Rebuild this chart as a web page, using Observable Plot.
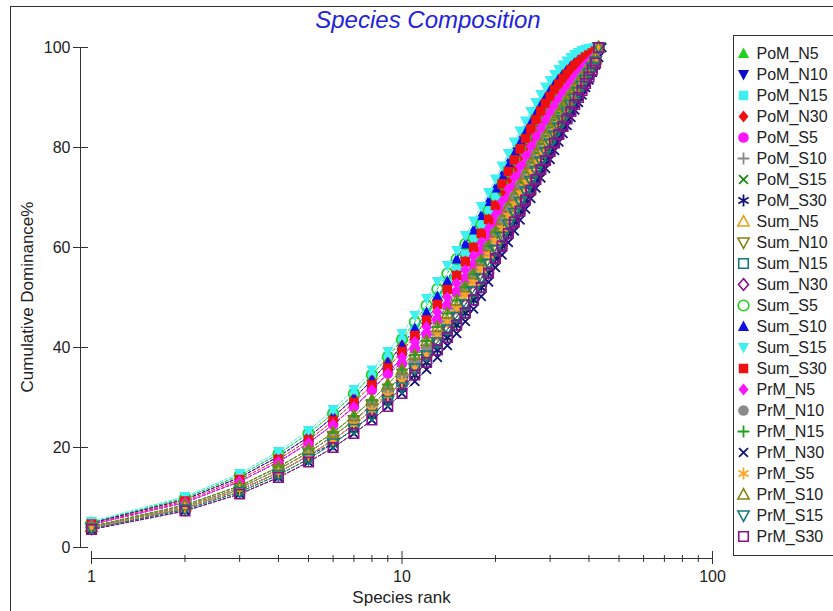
<!DOCTYPE html>
<html><head><meta charset="utf-8">
<script src="https://cdn.jsdelivr.net/npm/d3@7"></script>
<script src="https://cdn.jsdelivr.net/npm/@observablehq/plot@0.6"></script>
<style>
body{margin:0;background:#fff;}
#wrap{position:relative;width:833px;height:611px;overflow:hidden;font-family:"Liberation Sans",Arial,sans-serif;color:#222;}
#chart{position:absolute;left:0;top:0;width:833px;}
#border{position:absolute;left:10px;top:6px;width:900px;height:700px;border:1px solid #333;pointer-events:none;}
#title{position:absolute;left:0;width:856px;top:5px;text-align:center;font-style:italic;font-size:24px;line-height:30px;color:#2323dc;}
#xlab{position:absolute;left:401.5px;top:598px;transform:translate(-50%,-50%);font-size:17px;white-space:nowrap;}
#ylab{position:absolute;left:28px;top:297px;transform:translate(-50%,-50%) rotate(-90deg);font-size:17px;white-space:nowrap;}
#legend{position:absolute;left:733px;top:35px;width:108px;height:519px;border:1px solid #333;background:#fff;}
#chart svg,#legend svg{max-width:none !important;}
</style></head><body>
<div id="wrap"><div id="chart"></div><div id="border"></div><div id="title">Species Composition</div><div id="xlab">Species rank</div><div id="ylab">Cumulative Dominance%</div><div id="legend"></div></div>
<script>
// Cumulative dominance (%) by species rank (rank = position in array, starting at 1)
const PoM_N5 = [4.2,8.5,12.3,16.1,19.6,23.0,26.3,29.5,32.6,35.6,39.8,42.7,45.6,48.4,51.1,53.8,56.5,59.2,62.1,64.9,67.4,69.9,72.2,74.4,76.5,78.5,80.5,82.3,84.0,85.5,87.0,88.4,89.7,90.9,92.0,93.1,94.0,95.0,95.8,96.7,97.5,98.3,100];
const PoM_N10 = [4.6,9.0,13.2,17.1,20.9,24.6,28.1,31.5,34.8,38.0,41.1,44.1,48.6,51.6,54.4,57.2,60.0,62.8,65.6,68.4,71.0,73.5,75.8,78.0,80.0,82.0,83.9,85.6,87.2,88.7,90.0,91.3,92.4,93.4,94.4,95.3,96.0,96.7,97.3,97.9,98.4,99.0,100];
const PoM_N15 = [5.0,9.9,14.4,18.7,22.8,26.8,30.7,34.5,38.1,41.6,43.8,47.0,50.2,53.2,56.1,59.0,61.8,64.6,67.4,70.2,72.7,75.2,77.5,79.7,81.8,83.7,85.6,87.3,88.8,90.2,91.6,92.7,93.8,94.7,95.6,96.4,97.0,97.6,98.1,98.5,98.9,99.3,100];
const PoM_N30 = [4.9,9.6,14.0,18.2,22.1,26.1,29.8,33.5,37.0,40.4,42.4,45.5,48.6,51.6,54.4,57.2,60.0,62.8,65.6,68.4,71.0,73.5,75.8,78.0,80.0,82.0,83.9,85.6,87.2,88.7,90.0,91.3,92.4,93.4,94.4,95.3,96.0,96.7,97.3,97.9,98.4,99.0,100];
const PoM_S5 = [4.6,9.0,13.2,17.1,20.9,24.6,28.1,31.5,34.8,36.8,39.8,42.7,45.6,48.4,51.1,53.8,56.5,59.2,62.1,64.9,67.4,69.9,72.2,74.4,76.5,78.5,80.5,82.3,84.0,85.5,87.0,88.4,89.7,90.9,92.0,93.1,94.0,95.0,95.8,96.7,97.5,98.3,100];
const PoM_S10 = [4.1,8.2,11.9,15.6,19.0,22.3,25.4,28.5,31.5,34.4,37.2,39.9,42.6,45.2,47.8,50.4,53.0,55.6,58.5,61.3,63.8,66.3,68.6,70.8,73.0,73.3,75.3,77.2,79.1,80.8,82.4,84.0,85.5,87.0,88.4,89.7,91.0,92.3,93.5,94.8,96.0,97.2,100];
const PoM_S15 = [3.8,7.6,11.1,14.5,17.7,20.8,23.7,26.5,29.3,32.0,34.5,37.0,39.5,42.0,44.5,46.9,49.5,52.0,54.9,57.8,60.3,62.8,65.1,67.3,69.5,71.5,73.6,75.6,77.4,79.2,82.4,84.0,85.5,87.0,88.4,89.7,91.0,92.3,93.5,94.8,96.0,97.2,100];
const PoM_S30 = [3.9,7.9,11.5,15.0,18.4,20.8,23.7,26.5,29.3,32.0,34.5,37.0,39.5,42.0,44.5,46.9,49.5,52.0,54.9,57.8,60.3,62.8,65.1,67.3,69.5,71.5,73.6,75.6,77.4,79.2,80.9,82.6,84.2,85.7,87.2,88.6,90.0,91.4,92.8,94.1,95.5,96.9,100];
const Sum_N5 = [4.1,8.2,11.9,15.6,19.0,22.3,25.4,28.5,31.5,34.4,37.2,39.9,42.6,45.2,47.8,50.4,53.0,55.6,58.5,61.3,63.8,66.3,68.6,70.8,73.0,75.0,77.0,78.9,80.7,82.3,84.0,85.5,86.9,88.3,89.6,90.8,92.0,93.2,94.3,95.4,96.5,97.6,100];
const Sum_N10 = [4.1,8.2,11.9,15.6,19.0,22.3,25.4,28.5,30.4,33.2,35.8,38.4,41.0,43.6,46.1,48.6,51.2,53.8,56.7,59.5,62.1,64.6,66.9,69.1,71.2,73.3,75.3,77.2,79.1,80.8,82.4,84.0,85.5,87.0,88.4,89.7,91.0,92.3,93.5,94.8,96.0,97.2,100];
const Sum_N15 = [3.9,7.9,11.5,15.0,18.4,21.5,24.6,27.5,30.4,33.2,35.8,38.4,41.0,43.6,46.1,48.6,51.2,53.8,56.7,59.5,62.1,64.6,66.9,69.1,71.2,73.3,75.3,77.2,79.1,80.8,82.4,84.0,85.5,87.0,88.4,89.7,91.0,92.3,93.5,94.8,96.0,97.2,100];
const Sum_N30 = [3.9,7.9,11.5,15.0,18.4,21.5,24.6,27.5,30.4,33.2,35.8,38.4,41.0,43.6,46.1,48.6,51.2,53.8,54.9,57.8,60.3,62.8,65.1,67.3,69.5,71.5,73.6,75.6,77.4,79.2,80.9,82.6,84.2,85.7,87.2,88.6,90.0,91.4,92.8,94.1,95.5,96.9,100];
const Sum_S5 = [5.0,9.9,14.4,18.7,22.8,26.8,30.7,34.5,38.1,41.6,45.1,48.4,51.7,54.8,57.7,60.7,61.8,64.6,67.4,70.2,72.7,75.2,77.5,79.7,81.8,83.7,85.6,87.3,88.8,90.2,91.6,92.7,93.8,94.7,95.6,96.4,97.0,97.6,98.1,98.5,98.9,99.3,100];
const Sum_S10 = [4.9,9.6,14.0,18.2,22.1,26.1,29.8,33.5,37.0,40.4,43.8,47.0,50.2,53.2,57.7,60.7,63.5,66.4,69.2,71.9,74.5,77.0,79.3,81.5,83.5,85.5,87.3,88.9,90.5,91.8,93.1,94.2,95.1,96.0,96.8,97.5,98.0,98.5,98.8,99.2,99.4,99.7,100];
const Sum_S15 = [5.2,10.2,14.8,19.2,23.4,27.6,31.6,35.5,39.2,42.8,46.4,49.8,53.2,56.4,59.4,62.4,65.3,68.2,71.0,73.7,76.3,78.8,81.1,83.3,85.3,87.2,89.0,90.6,92.1,93.4,94.6,95.6,96.5,97.3,98.0,98.6,99.0,99.4,99.6,99.8,99.9,100];
const Sum_S30 = [4.7,9.3,13.6,17.6,21.5,25.3,29.0,32.5,35.9,39.2,42.4,45.5,48.6,51.6,54.4,57.2,60.0,62.8,65.6,68.4,72.7,75.2,77.5,79.7,81.8,83.7,85.6,87.3,88.8,90.2,91.6,92.7,93.8,94.7,95.6,96.4,97.0,97.6,98.1,98.5,98.9,99.3,100];
const PrM_N5 = [4.6,9.0,13.2,17.1,20.9,24.6,28.1,31.5,34.8,38.0,41.1,44.1,47.1,50.0,52.8,55.5,58.3,61.0,63.8,66.6,69.2,71.7,74.0,76.2,78.3,80.2,82.2,83.9,85.6,87.1,88.5,89.8,91.0,92.1,93.2,94.2,95.0,95.8,96.6,97.3,97.9,98.6,100];
const PrM_N10 = [4.1,8.2,11.9,15.6,19.0,22.3,25.4,28.5,31.5,34.4,37.2,39.9,42.6,45.2,47.8,52.1,54.7,57.4,60.3,63.1,65.6,68.1,70.4,72.6,74.7,76.8,78.7,80.6,82.3,83.9,85.5,86.9,88.3,89.6,90.8,91.9,93.0,94.1,95.0,96.0,97.0,97.9,100];
const PrM_N15 = [4.2,8.5,12.3,16.1,19.6,23.0,26.3,29.5,32.6,35.6,38.5,41.3,44.1,46.8,49.4,52.1,54.7,57.4,60.3,63.1,63.8,66.3,68.6,70.8,73.0,75.0,77.0,78.9,80.7,82.3,84.0,85.5,86.9,88.3,89.6,90.8,92.0,93.2,94.3,95.4,96.5,97.6,100];
const PrM_N30 = [3.6,7.3,10.7,14.0,17.1,20.0,22.8,25.5,28.2,30.8,33.2,35.6,38.0,40.4,42.8,45.2,47.7,50.2,53.1,56.0,58.5,61.0,63.3,65.5,67.7,69.8,71.9,73.9,75.8,77.6,79.4,81.1,82.8,84.4,86.0,87.5,89.0,90.5,92.0,93.5,95.0,96.5,98.0,100];
const PrM_S5 = [3.9,7.9,11.5,15.0,18.4,21.5,24.6,27.5,30.4,33.2,35.8,38.4,42.6,45.2,47.8,50.4,53.0,55.6,58.5,61.3,63.8,66.3,68.6,70.8,73.0,75.0,77.0,78.9,80.7,82.3,84.0,85.5,86.9,88.3,89.6,90.8,92.0,93.2,94.3,95.4,96.5,97.6,100];
const PrM_S10 = [4.2,8.5,12.3,16.1,19.6,23.0,26.3,29.5,32.6,35.6,38.5,41.3,44.1,46.8,49.4,52.1,54.7,57.4,60.3,63.1,65.6,68.1,70.4,72.6,74.7,76.8,78.7,80.6,82.3,83.9,85.5,86.9,88.3,89.6,90.8,91.9,93.0,94.1,95.0,96.0,97.0,97.9,100];
const PrM_S15 = [3.8,7.6,11.1,14.5,17.7,20.8,23.7,26.5,29.3,32.0,35.8,38.4,41.0,43.6,46.1,48.6,51.2,53.8,56.7,59.5,62.1,64.6,66.9,69.1,71.2,73.3,75.3,77.2,79.1,80.8,82.4,84.0,85.5,87.0,88.4,89.7,91.0,92.3,93.5,94.8,96.0,97.2,100];
const PrM_S30 = [3.6,7.3,10.7,14.0,17.1,20.0,22.8,25.5,28.2,30.8,34.5,37.0,39.5,42.0,44.5,46.9,49.5,52.0,54.9,57.8,60.3,62.8,65.1,67.3,69.5,71.5,73.6,75.6,77.4,79.2,80.9,82.6,84.2,85.7,87.2,88.6,90.0,91.4,92.8,94.1,95.5,96.9,100];

const seriesNames = ["PoM_N5","PoM_N10","PoM_N15","PoM_N30","PoM_S5","PoM_S10","PoM_S15","PoM_S30","Sum_N5","Sum_N10","Sum_N15","Sum_N30","Sum_S5","Sum_S10","Sum_S15","Sum_S30","PrM_N5","PrM_N10","PrM_N15","PrM_N30","PrM_S5","PrM_S10","PrM_S15","PrM_S30"];
const seriesValues = [PoM_N5,PoM_N10,PoM_N15,PoM_N30,PoM_S5,PoM_S10,PoM_S15,PoM_S30,Sum_N5,Sum_N10,Sum_N15,Sum_N30,Sum_S5,Sum_S10,Sum_S15,Sum_S30,PrM_N5,PrM_N10,PrM_N15,PrM_N30,PrM_S5,PrM_S10,PrM_S15,PrM_S30];

const xDomain = [1, 100];
const yDomain = [0, 100];
const xMajorTicks = [1, 10, 100];
const xMinorTicks = [2,3,4,5,6,7,8,9,20,30,40,50,60,70,80,90];
const yTicks = [0, 20, 40, 60, 80, 100];

// styles (kept apart from the data)
const seriesColors = ["#1fd01f","#0c0cc8","#3ff0f0","#ee1111","#ff14ff","#8a8a8a","#1a8a1a","#12127a","#e6a012","#828214","#127a7a","#8a128a","#1fd01f","#1010e6","#3ff0f0","#ee1111","#ff14ff","#8a8a8a","#1f9f1f","#12127a","#ffa424","#828214","#127a7a","#8a128a"];
const seriesShapes = ["triUp","triDown","square","diamond","circle","plus","times","asterisk","triUp","triDown","square","diamond","circle","triUp","triDown","square","diamond","circle","plus","times","asterisk","triUp","triDown","square"];
const seriesKinds = ["fill","fill","fill","fill","fill","line","line","line","open","open","open","open","open","fill","fill","fill","fill","fill","line","line","line","open","open","open"];

const rad = size => Math.sqrt(size / Math.PI);
const SYM = {
  triUp: {draw(c, s){const r=rad(s); c.moveTo(0,-r*1.05); c.lineTo(r*1.0,r*0.8); c.lineTo(-r*1.0,r*0.8); c.closePath();}},
  triDown: {draw(c, s){const r=rad(s); c.moveTo(0,r*1.05); c.lineTo(r*1.0,-r*0.8); c.lineTo(-r*1.0,-r*0.8); c.closePath();}},
  square: {draw(c, s){const r=rad(s)*0.85; c.moveTo(-r,-r); c.lineTo(r,-r); c.lineTo(r,r); c.lineTo(-r,r); c.closePath();}},
  diamond: {draw(c, s){const r=rad(s)*1.05; c.moveTo(0,-r); c.lineTo(r*0.85,0); c.lineTo(0,r); c.lineTo(-r*0.85,0); c.closePath();}},
  circle: {draw(c, s){const r=rad(s)*0.95; c.moveTo(r,0); c.arc(0,0,r,0,2*Math.PI);}},
  plus: {draw(c, s){const r=rad(s)*1.05; c.moveTo(-r,0); c.lineTo(r,0); c.moveTo(0,-r); c.lineTo(0,r);}},
  times: {draw(c, s){const r=rad(s)*0.8; c.moveTo(-r,-r); c.lineTo(r,r); c.moveTo(-r,r); c.lineTo(r,-r);}},
  asterisk: {draw(c, s){const r=rad(s)*1.05, a=r*0.87, b=r*0.5; c.moveTo(0,-r); c.lineTo(0,r); c.moveTo(-a,-b); c.lineTo(a,b); c.moveTo(-a,b); c.lineTo(a,-b);}}
};
function markStyle(i) {
  const k = seriesKinds[i], col = seriesColors[i];
  if (k === "fill") return {fill: col, stroke: "none"};
  if (k === "open") return {fill: "none", stroke: col, strokeWidth: 1.6};
  return {fill: "none", stroke: col, strokeWidth: 1.8};
}

const rows = seriesNames.flatMap((s, i) => seriesValues[i].map((v, j) => ({series: s, rank: j + 1, value: v})));
const bySeries = s => rows.filter(d => d.series === s);

const fontStack = "'Liberation Sans', Arial, sans-serif";
const chart = Plot.plot({
  width: 833, height: 611,
  marginLeft: 91, marginRight: 121, marginTop: 47, marginBottom: 64,
  x: {type: "log", domain: xDomain},
  y: {domain: yDomain},
  style: {fontFamily: fontStack, fontSize: "16px", color: "#222", background: "transparent", overflow: "visible"},
  marks: [
    Plot.ruleX([xDomain[0]], {y1: yDomain[0], y2: yDomain[1], dx: -11, stroke: "#333"}),
    Plot.ruleY([yDomain[0]], {x1: xDomain[0], x2: xDomain[1], dy: 11, stroke: "#333"}),
    Plot.axisY(yTicks, {tickSize: 15, dx: -3, tickFormat: () => "", label: null, stroke: "#333"}),
    Plot.axisY(yTicks, {tickSize: 0, tickPadding: 21, label: null, fontSize: 16}),
    Plot.axisX(xMajorTicks, {tickSize: 13, dy: 4, tickFormat: () => "", label: null, stroke: "#333"}),
    Plot.axisX(xMinorTicks, {tickSize: 7, dy: 8, tickFormat: () => "", label: null, stroke: "#333"}),
    Plot.axisX(xMajorTicks, {tickSize: 0, tickPadding: 23, label: null, fontSize: 16, tickFormat: d => String(d)}),
    ...seriesNames.map((s, i) => Plot.line(bySeries(s), {x: "rank", y: "value", stroke: seriesColors[i], strokeWidth: 1, strokeDasharray: "3,2"})),
    ...seriesNames.map((s, i) => Plot.dot(bySeries(s), {x: "rank", y: "value", symbol: SYM[seriesShapes[i]], r: 5.6, ...markStyle(i)}))
  ]
});
document.getElementById("chart").appendChild(chart);

const legend = Plot.plot({
  width: 108, height: 519,
  marginLeft: 9, marginRight: 0, marginTop: 12, marginBottom: 15,
  y: {type: "point", domain: seriesNames, padding: 0, axis: null},
  style: {fontFamily: fontStack, fontSize: "16px", color: "#222", background: "#fff", overflow: "visible"},
  marks: [
    ...seriesNames.map((s, i) => Plot.dot([s], {y: d => d, frameAnchor: "left", symbol: SYM[seriesShapes[i]], r: 5.6, ...markStyle(i)})),
    Plot.text(seriesNames, {y: d => d, text: d => d, frameAnchor: "left", textAnchor: "start", dx: 13, fontSize: 16, fill: "#222"})
  ]
});
document.getElementById("legend").appendChild(legend);
</script></body></html>
